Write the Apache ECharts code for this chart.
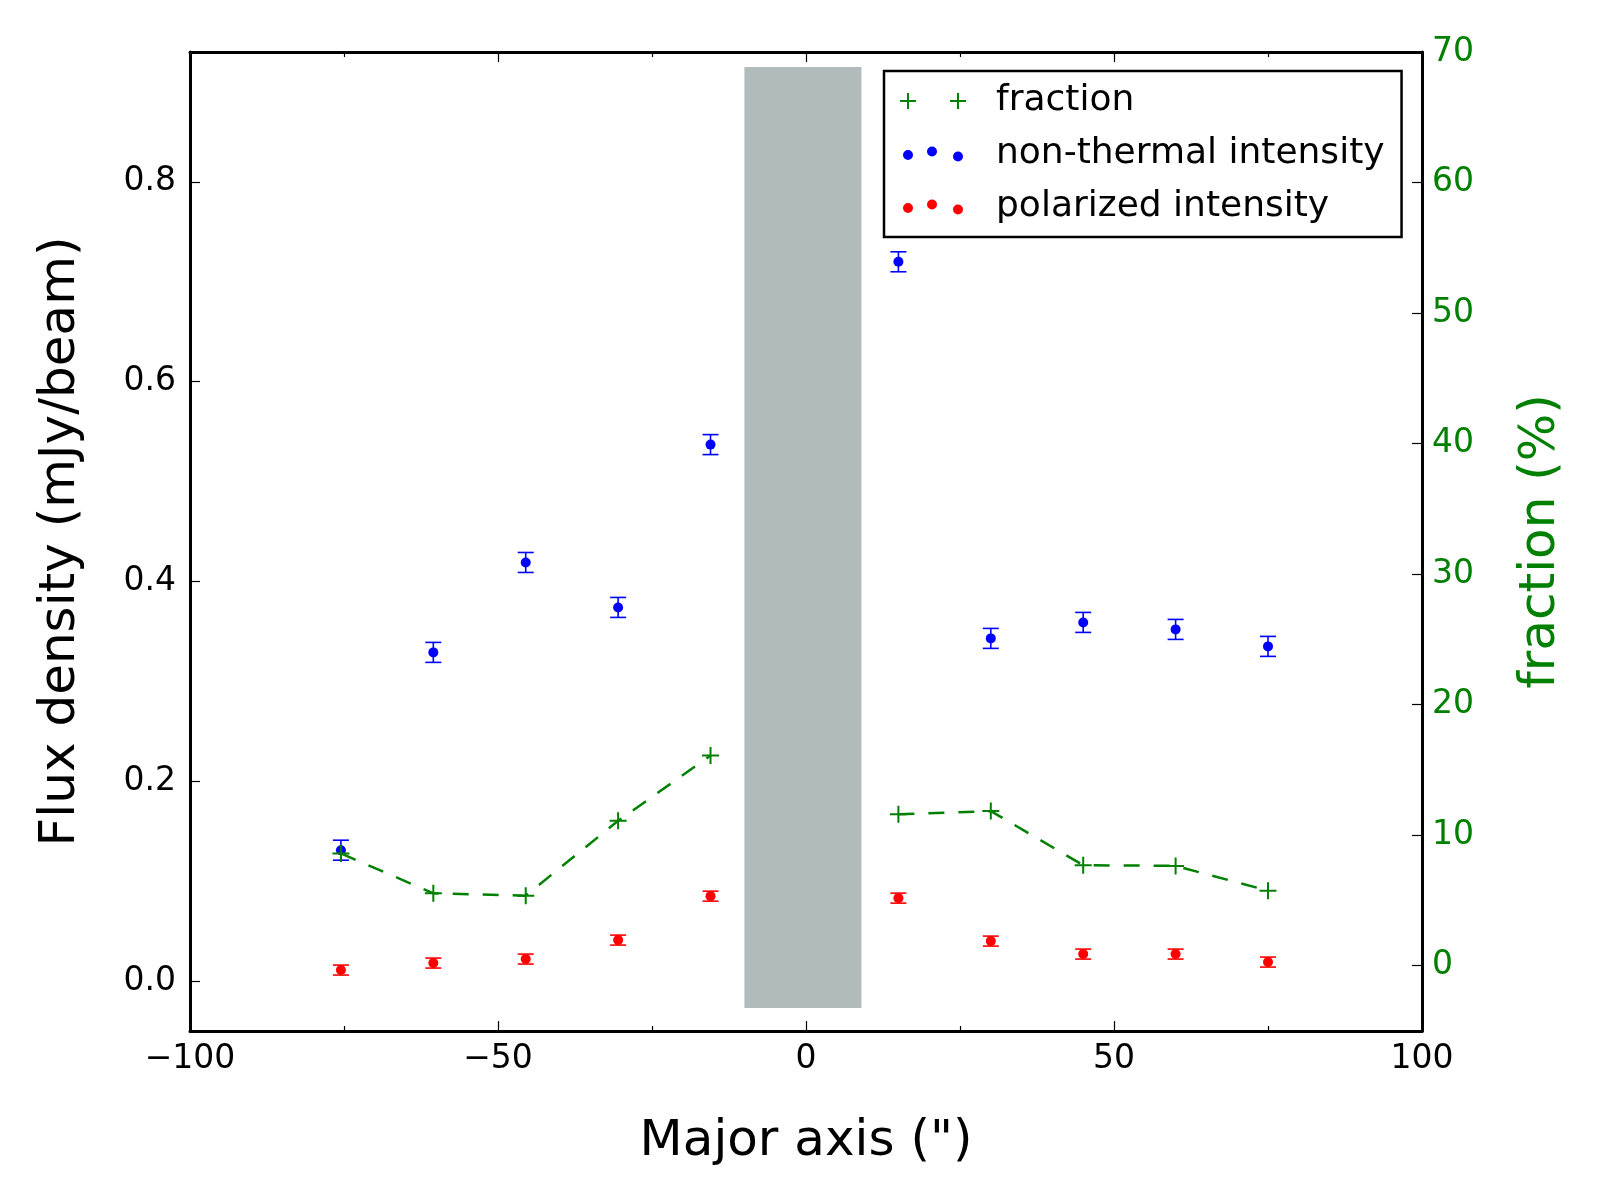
<!DOCTYPE html>
<html>
<head>
<meta charset="utf-8">
<script src="https://cdn.jsdelivr.net/npm/echarts@6/dist/echarts.min.js"></script>
<style>
  html,body{margin:0;padding:0;background:#fff;}
  #chart{width:1600px;height:1200px;}
</style>
</head>
<body>
<div id="chart"></div>
<script>
// positions along the major axis (arcsec)
const xs = [-75.5, -60.5, -45.5, -30.5, -15.5, 15, 30, 45, 60, 75];
// non-thermal intensity (mJy/beam) and errors
const ntVal = [0.131, 0.329, 0.419, 0.374, 0.537, 0.720, 0.343, 0.359, 0.352, 0.335];
const ntErr = [0.010, 0.010, 0.010, 0.010, 0.010, 0.010, 0.010, 0.010, 0.010, 0.010];
// polarized intensity (mJy/beam) and errors
const polVal = [0.011, 0.018, 0.022, 0.041, 0.085, 0.083, 0.040, 0.027, 0.027, 0.019];
const polErr = [0.005, 0.005, 0.005, 0.005, 0.005, 0.005, 0.005, 0.005, 0.005, 0.005];
// polarization fraction (%)
const frac = [8.6, 5.55, 5.37, 11.1, 16.1, 11.6, 11.85, 7.7, 7.65, 5.75];
// masked central region
const bandX = [-10, 9];
const bandY = [-0.027, 0.915];

const FONT = 'DejaVu Sans';
const GREEN = '#008000';

// fraction line breaks across the masked centre
const fracData = [];
xs.forEach((x,i)=>{
    if(i>0 && xs[i-1]<0 && x>0) fracData.push([0,'-']);
    fracData.push([x,frac[i]]);
});

const plusPath = 'path://M0 7.5 L17 7.5 L17 9.5 L0 9.5 Z M7.5 0 L9.5 0 L9.5 17 L7.5 17 Z';
// legend icons (box 91x18 so the text starts where matplotlib puts it)
const legPlus = 'path://M0 0 M91 18 M0 8 L16 8 L16 10 L0 10 Z M7 1 L9 1 L9 17 L7 17 Z M50 8 L66 8 L66 10 L50 10 Z M57 1 L59 1 L59 17 L57 17 Z';
const legDots = 'path://M0 0 M91 18 M3 10 A5 5 0 1 0 13 10 A5 5 0 1 0 3 10 Z M27 6.5 A5 5 0 1 0 37 6.5 A5 5 0 1 0 27 6.5 Z M53 11.5 A5 5 0 1 0 63 11.5 A5 5 0 1 0 53 11.5 Z';

function errBars(color){
    return function(params,api){
        const x=api.value(0), y=api.value(1), e=api.value(2);
        const t=api.coord([x,y+e]), b=api.coord([x,y-e]);
        const st={stroke:color,lineWidth:1.6};
        return {type:'group',children:[
            {type:'line',shape:{x1:t[0],y1:t[1],x2:b[0],y2:b[1]},style:st},
            {type:'line',shape:{x1:t[0]-8,y1:t[1],x2:t[0]+8,y2:t[1]},style:st},
            {type:'line',shape:{x1:b[0]-8,y1:b[1],x2:b[0]+8,y2:b[1]},style:st}
        ]};
    };
}

const axisLine = {show:true,onZero:false,lineStyle:{color:'#000',width:3}};
const axisTick = {show:true,inside:true,length:10,lineStyle:{color:'#000',width:1.2}};
const minorTick = {show:true,splitNumber:2,length:5,lineStyle:{color:'#000',width:1.2}};

const option = {
    backgroundColor:'#fff',
    animation:false,
    textStyle:{fontFamily:FONT},
    grid:{left:190,right:178,top:52,bottom:169,outerBoundsMode:'none'},
    legend:{
        orient:'vertical',
        left:884,
        top:71,
        padding:[10,17,10,16],
        itemGap:13,
        itemWidth:91,
        itemHeight:18,
        borderColor:'#000',
        borderWidth:2.5,
        backgroundColor:'#fff',
        textStyle:{fontSize:36,color:'#000',fontFamily:FONT,lineHeight:40},
        data:[
            {name:'fraction',icon:legPlus},
            {name:'non-thermal intensity',icon:legDots},
            {name:'polarized intensity',icon:legDots}
        ]
    },
    xAxis:[{
        type:'value',min:-100,max:100,interval:50,position:'bottom',
        name:'Major axis (")',nameLocation:'middle',nameGap:86,
        nameTextStyle:{fontSize:50,color:'#000',fontFamily:FONT},
        axisLine,axisTick,minorTick,
        splitLine:{show:false},
        axisLabel:{fontSize:33,color:'#000',margin:12,fontFamily:FONT,
            formatter:v=>String(v).replace('-','\u2212')}
    },{
        type:'value',min:-100,max:100,interval:50,position:'top',
        axisLine,axisTick,minorTick,
        splitLine:{show:false},
        axisLabel:{show:false}
    }],
    yAxis:[{
        type:'value',min:-0.05,max:0.93,splitNumber:5,position:'left',
        name:'Flux density (mJy/beam)',nameLocation:'middle',nameRotate:90,nameGap:104,
        nameTextStyle:{fontSize:50,color:'#000',fontFamily:FONT},
        axisLine,axisTick,
        splitLine:{show:false},
        axisLabel:{fontSize:33,color:'#000',margin:14,fontFamily:FONT,
            showMinLabel:false,showMaxLabel:false,
            formatter:v=>v.toFixed(1)}
    },{
        type:'value',min:-5,max:70,splitNumber:7,position:'right',
        name:'fraction (%)',nameLocation:'middle',nameRotate:90,nameGap:94,
        nameTextStyle:{fontSize:50,color:GREEN,fontFamily:FONT},
        axisLine,axisTick,
        splitLine:{show:false},
        axisLabel:{fontSize:33,color:GREEN,margin:10,fontFamily:FONT,showMinLabel:false}
    }],
    series:[{
        name:'nt-err',type:'custom',xAxisIndex:0,yAxisIndex:0,
        renderItem:errBars('#0000ff'),encode:{x:0,y:1},
        data:xs.map((x,i)=>[x,ntVal[i],ntErr[i]]),silent:true
    },{
        name:'non-thermal intensity',type:'scatter',xAxisIndex:0,yAxisIndex:0,
        symbol:'circle',symbolSize:10,itemStyle:{color:'#0000ff',opacity:1},
        data:xs.map((x,i)=>[x,ntVal[i]]),
        markArea:{silent:true,itemStyle:{color:'#b1bbbc',opacity:1},
            data:[[{coord:[bandX[0],bandY[0]]},{coord:[bandX[1],bandY[1]]}]]}
    },{
        name:'pol-err',type:'custom',xAxisIndex:0,yAxisIndex:0,
        renderItem:errBars('#ff0000'),encode:{x:0,y:1},
        data:xs.map((x,i)=>[x,polVal[i],polErr[i]]),silent:true
    },{
        name:'polarized intensity',type:'scatter',xAxisIndex:0,yAxisIndex:0,
        symbol:'circle',symbolSize:10,itemStyle:{color:'#ff0000',opacity:1},
        data:xs.map((x,i)=>[x,polVal[i]])
    },{
        name:'fraction',type:'line',xAxisIndex:0,yAxisIndex:1,
        symbol:plusPath,symbolSize:17,showAllSymbol:true,connectNulls:false,
        itemStyle:{color:GREEN},
        lineStyle:{color:GREEN,width:2.5,type:[16,14]},
        data:fracData
    }]
};

const chart = echarts.init(document.getElementById('chart'),null,{renderer:'canvas'});
chart.setOption(option);
</script>
</body>
</html>
